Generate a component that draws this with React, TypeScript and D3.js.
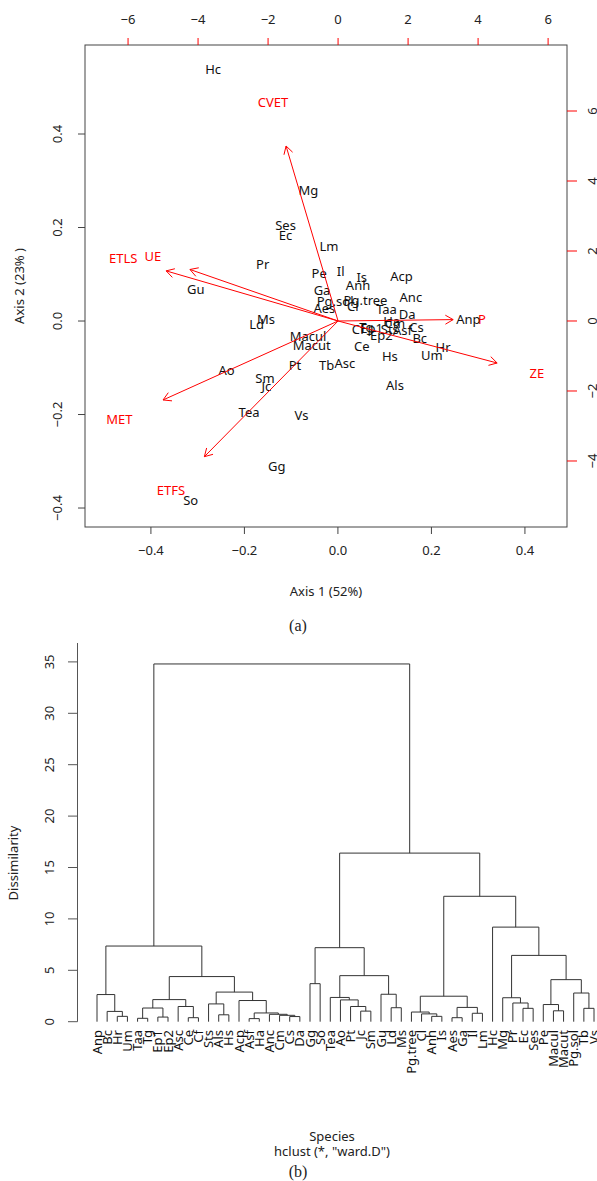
import React from "react";
import * as d3 from "d3";

// ---------- Data ----------
const species = ["Anp","Bc","Hr","Um","Taa","Tg","Ep1","Ep2","Asc","Ce","Cf","Sts","Als","Hs","Acp","Asf","Ha","Anc","Cm","Cs","Da","Gg","So","Tea","Ao","Pt","Jc","Sm","Gu","Ld","Ms","Pg.tree","Cl","Anh","Is","Aes","Ga","Il","Lm","Hc","Mg","Pr","Ec","Ses","Pe","Macul","Macut","Pg.sol","Tb","Vs"];
const axis1Scores = [0.279,0.175,0.225,0.201,0.104,0.061,0.072,0.093,0.015,0.051,0.043,0.111,0.122,0.111,0.136,0.138,0.115,0.156,0.122,0.168,0.148,-0.131,-0.315,-0.190,-0.238,-0.092,-0.153,-0.156,-0.304,-0.174,-0.154,0.059,0.032,0.043,0.051,-0.029,-0.034,0.006,-0.019,-0.267,-0.063,-0.161,-0.112,-0.112,-0.040,-0.064,-0.056,-0.006,-0.024,-0.078];
const axis2Scores = [0.004,-0.037,-0.056,-0.073,0.024,-0.013,-0.016,-0.030,-0.090,-0.055,-0.019,-0.019,-0.138,-0.076,0.096,-0.021,-0.001,0.050,-0.005,-0.014,0.013,-0.312,-0.384,-0.196,-0.106,-0.095,-0.139,-0.123,0.068,-0.007,0.004,0.043,0.032,0.077,0.093,0.027,0.066,0.105,0.159,0.538,0.279,0.121,0.182,0.205,0.101,-0.034,-0.053,0.041,-0.094,-0.203];

const variables = ["CVET","ETLS","UE","P","ZE","MET","ETFS"];
const varLoad1 = [-1.857,-6.14,-5.29,4.11,5.68,-6.25,-4.775];
const varLoad2 = [6.25,1.79,1.84,0.05,-1.5,-2.82,-4.846];

const bottomTicks = [-0.4,-0.2,0.0,0.2,0.4];
const leftTicks = [-0.4,-0.2,0.0,0.2,0.4];
const topTicks = [-6,-4,-2,0,2,4,6];
const rightTicks = [-4,-2,0,2,4,6];
const heightTicks = [0,5,10,15,20,25,30,35];

// hclust merges: [left, right, height]; string = leaf, number = earlier merge row
const merges: [string | number, string | number, number][] = [
  ["Hr","Um",0.52],[ "Bc",0,1.0],["Anp",1,2.64],
  ["Taa","Tg",0.33],["Ep1","Ep2",0.45],[3,4,1.33],
  ["Ce","Cf",0.39],["Asc",6,1.48],[5,7,2.15],
  ["Als","Hs",0.67],["Sts",9,1.73],
  ["Asf","Ha",0.30],["Cs","Da",0.50],["Cm",12,0.62],["Anc",13,0.72],[11,14,0.85],["Acp",15,2.06],
  [10,16,2.88],[8,17,4.39],[2,18,7.36],
  ["Gg","So",3.7],["Jc","Sm",1.03],["Pt",21,1.48],["Ao",22,2.12],["Tea",23,2.36],
  ["Ld","Ms",1.36],["Gu",25,2.67],[24,26,4.48],[20,27,7.2],
  ["Anh","Is",0.52],["Cl",29,0.76],["Pg.tree",30,0.94],["Aes","Ga",0.39],["Il","Lm",0.82],[32,33,1.39],[31,34,2.48],
  ["Ec","Ses",1.3],["Pr",36,1.82],["Mg",37,2.33],
  ["Macul","Macut",1.06],["Pe",39,1.67],["Tb","Vs",1.3],["Pg.sol",41,2.79],[40,42,4.09],[38,43,6.45],
  ["Hc",44,9.2],[35,45,12.2],[28,46,16.4],[19,47,34.8]
];

const FONT = "'Noto Sans', 'Open Sans', sans-serif";
const RED = "#ff0000";
const INK = "#222";

export default function App() {
  // ---------- Biplot scales ----------
  const x = d3.scaleLinear().domain([-0.541, 0.49]).range([85, 567]);
  const y = d3.scaleLinear().domain([-0.4406, 0.5904]).range([527, 45]);
  const xTop = d3.scaleLinear().domain([-7.23, 6.54]).range([85, 567]);
  const yRight = d3.scaleLinear().domain([-5.886, 7.886]).range([527, 45]);

  const ox = xTop(0), oy = yRight(0);
  const arrows = variables.map((v, i) => {
    const tx = xTop(varLoad1[i] * 0.8), ty = yRight(varLoad2[i] * 0.8);
    const ang = Math.atan2(ty - oy, tx - ox);
    const L = 9, a = Math.PI / 6;
    const h1 = [tx - L * Math.cos(ang - a), ty - L * Math.sin(ang - a)];
    const h2 = [tx - L * Math.cos(ang + a), ty - L * Math.sin(ang + a)];
    return { v, tx, ty, h1, h2, lx: xTop(varLoad1[i]), ly: yRight(varLoad2[i]) };
  });

  // ---------- Dendrogram ----------
  const xd = d3.scalePoint<string>().domain(species).range([97, 594]);
  const yd = d3.scaleLinear().domain([0, 35]).range([1021.7, 1021.7 - 35 * 10.28]);
  const nodes: { x: number; h: number }[] = [];
  const segs: [number, number, number, number][] = [];
  const pos = (c: string | number) =>
    typeof c === "string" ? { x: xd(c) as number, h: 0 } : nodes[c];
  merges.forEach(([a, b, h]) => {
    const A = pos(a), B = pos(b);
    segs.push([A.x, yd(A.h), A.x, yd(h)]);
    segs.push([B.x, yd(B.h), B.x, yd(h)]);
    segs.push([A.x, yd(h), B.x, yd(h)]);
    nodes.push({ x: (A.x + B.x) / 2, h });
  });

  return (
    <svg width={597} height={1181} style={{ position: "absolute", left: 0, top: 0, background: "#fff" }}
      fontFamily={FONT}>
      {/* ===== Biplot ===== */}
      <rect x={85} y={45} width={482} height={482} fill="none" stroke="#444" strokeWidth={1} />
      {/* bottom axis */}
      {bottomTicks.map(t => (
        <g key={"b" + t}>
          <line x1={x(t)} x2={x(t)} y1={527} y2={534} stroke="#444" />
          <text x={x(t)} y={555} fontSize={13} textAnchor="middle" fill={INK}>{t.toFixed(1).replace("-", "\u2212")}</text>
        </g>
      ))}
      {/* left axis */}
      {leftTicks.map(t => (
        <g key={"l" + t}>
          <line x1={78} x2={85} y1={y(t)} y2={y(t)} stroke="#444" />
          <text transform={`translate(62,${y(t)}) rotate(-90)`} fontSize={13} textAnchor="middle" fill={INK}>{t.toFixed(1).replace("-", "\u2212")}</text>
        </g>
      ))}
      {/* top axis (red ticks) */}
      {topTicks.map(t => (
        <g key={"t" + t}>
          <line x1={xTop(t)} x2={xTop(t)} y1={45} y2={38} stroke={RED} />
          <text x={xTop(t)} y={24} fontSize={13} textAnchor="middle" fill={INK}>{String(t).replace("-", "\u2212")}</text>
        </g>
      ))}
      {/* right axis (red ticks) */}
      {rightTicks.map(t => (
        <g key={"r" + t}>
          <line x1={567} x2={577} y1={yRight(t)} y2={yRight(t)} stroke={RED} />
          <text transform={`translate(597,${yRight(t)}) rotate(-90)`} fontSize={13} textAnchor="middle" fill={INK}>{String(t).replace("-", "\u2212")}</text>
        </g>
      ))}
      <text x={326} y={596} fontSize={13} textAnchor="middle" fill={INK}>Axis 1 (52%)</text>
      <text transform="translate(24,286) rotate(-90)" fontSize={13} textAnchor="middle" fill={INK}>Axis 2 (23% )</text>

      {/* species labels */}
      {species.map((s, i) => (
        <text key={"p" + s} x={x(axis1Scores[i])} y={y(axis2Scores[i])} dy="0.35em" fontSize={13}
          textAnchor="middle" fill="#111">{s}</text>
      ))}
      {/* variable arrows */}
      {arrows.map(a => (
        <g key={"a" + a.v} stroke={RED} strokeWidth={1} fill="none">
          <line x1={ox} y1={oy} x2={a.tx} y2={a.ty} />
          <line x1={a.tx} y1={a.ty} x2={a.h1[0]} y2={a.h1[1]} />
          <line x1={a.tx} y1={a.ty} x2={a.h2[0]} y2={a.h2[1]} />
        </g>
      ))}
      {arrows.map(a => (
        <text key={"v" + a.v} x={a.lx} y={a.ly} dy="0.35em" fontSize={13} textAnchor="middle" fill={RED}>{a.v}</text>
      ))}
      <text x={298} y={631} fontSize={16} textAnchor="middle" fontFamily="'Liberation Serif', serif" fill={INK}>(a)</text>

      {/* ===== Dendrogram ===== */}
      <line x1={77.5} x2={77.5} y1={643} y2={yd(0)} stroke="#555" />
      {heightTicks.map(t => (
        <g key={"h" + t}>
          <line x1={68} x2={77.5} y1={yd(t)} y2={yd(t)} stroke="#555" />
          <text transform={`translate(54,${yd(t)}) rotate(-90)`} fontSize={13} textAnchor="middle" fill={INK}>{t}</text>
        </g>
      ))}
      <text transform="translate(18,863) rotate(-90)" fontSize={13} textAnchor="middle" fill={INK}>Dissimilarity</text>
      {segs.map((s, i) => (
        <line key={"s" + i} x1={s[0]} y1={s[1]} x2={s[2]} y2={s[3]} stroke="#333" strokeWidth={1} />
      ))}
      {species.map(s => (
        <text key={"d" + s} transform={`translate(${(xd(s) as number)},1030) rotate(-90)`} dy="0.35em" fontSize={13}
          textAnchor="end" fill="#111">{s}</text>
      ))}
      <text x={332} y={1141} fontSize={13} textAnchor="middle" fill={INK}>Species</text>
      <text x={332} y={1156} fontSize={13} textAnchor="middle" fill={INK}>hclust (*, "ward.D")</text>
      <text x={298} y={1177} fontSize={16} textAnchor="middle" fontFamily="'Liberation Serif', serif" fill={INK}>(b)</text>
    </svg>
  );
}
